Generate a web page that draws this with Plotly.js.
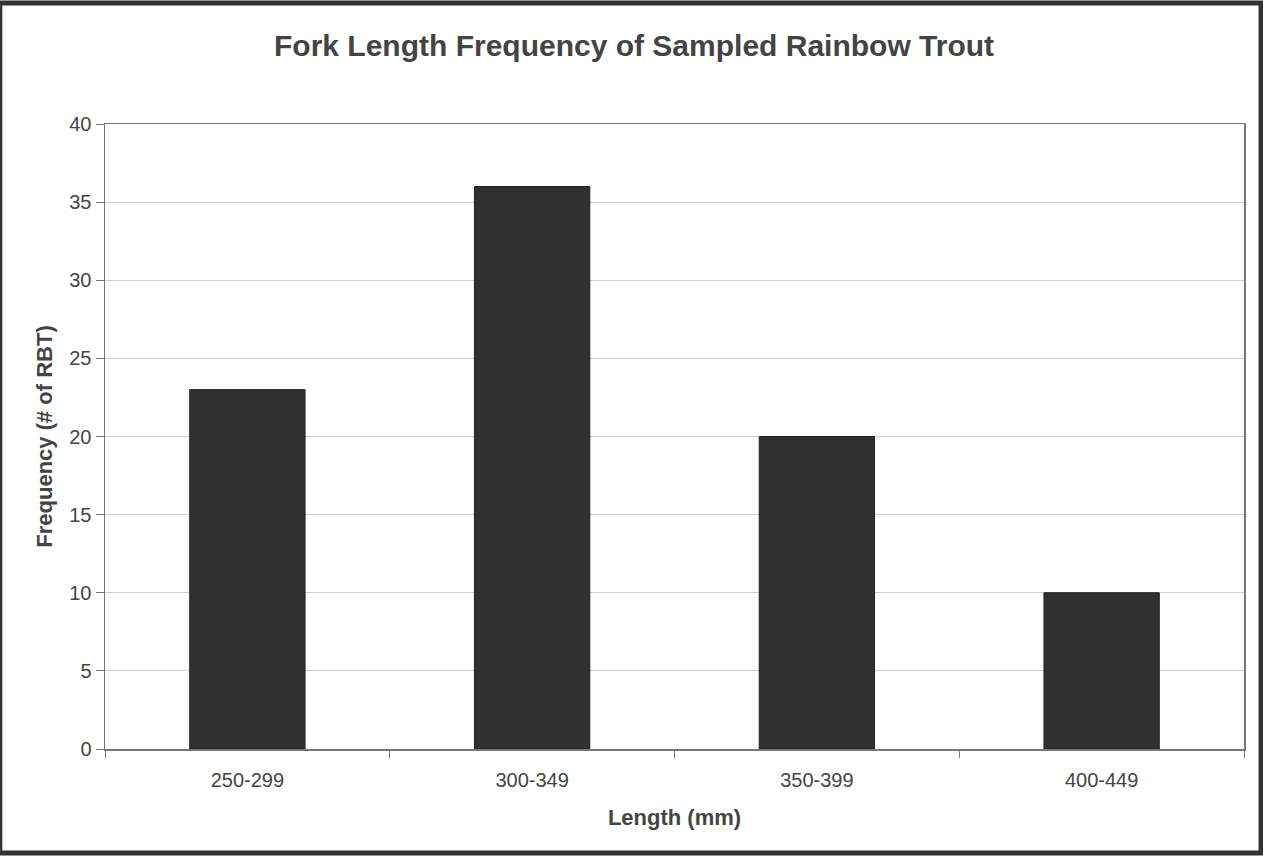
<!DOCTYPE html>
<html>
<head>
<meta charset="utf-8">
<script src="https://cdn.plot.ly/plotly-3.0.1.min.js"></script>
<style>
html,body{margin:0;padding:0;background:#fff;}
#chart{width:1263px;height:856px;}
</style>
</head>
<body>
<div id="chart"></div>
<script>
var categories = ["250-299", "300-349", "350-399", "400-449"];
var frequency = [23, 36, 20, 10];
var yTicks = [0, 5, 10, 15, 20, 25, 30, 35, 40];

var trace = {
  type: "bar",
  x: categories,
  y: frequency,
  marker: {color: "#303030", line: {color: "#222", width: 1}},
  hoverinfo: "x+y"
};

var layout = {
  width: 1263,
  height: 856,
  paper_bgcolor: "#ffffff",
  plot_bgcolor: "#ffffff",
  margin: {l: 105, r: 19, t: 124, b: 107},
  bargap: 0.595,
  showlegend: false,
  font: {family: "Liberation Sans, Arial, sans-serif", color: "#444"},
  title: {
    text: "<b>Fork Length Frequency of Sampled Rainbow Trout</b>",
    font: {size: 30, color: "#444", family: "Liberation Sans, Arial, sans-serif"},
    x: 0.502, xanchor: "center",
    y: 0.947, yanchor: "middle"
  },
  xaxis: {
    type: "category",
    tickson: "boundaries",
    ticks: "outside",
    ticklen: 7,
    tickcolor: "#777",
    ticklabelstandoff: 12,
    showgrid: false,
    showline: true,
    linecolor: "#777",
    linewidth: 1.5,
    mirror: true,
    tickfont: {size: 20, color: "#444"},
    title: {text: "<b>Length (mm)</b>", font: {size: 22, color: "#444"}, standoff: 20}
  },
  yaxis: {
    range: [0, 40],
    tickvals: yTicks,
    ticks: "outside",
    ticklen: 8,
    tickcolor: "#777",
    showgrid: true,
    gridcolor: "#cfcfcf",
    gridwidth: 1,
    showline: true,
    linecolor: "#777",
    linewidth: 1.5,
    mirror: true,
    zeroline: false,
    tickfont: {size: 20, color: "#444"},
    title: {text: "<b>Frequency (# of RBT)</b>", font: {size: 22, color: "#444"}, standoff: 10}
  },
  shapes: [{
    type: "rect", xref: "paper", yref: "paper",
    x0: -105/1137, x1: 1+ (19-2)/1137, y0: -(107-3)/625, y1: 1 + (124-3)/625,
    line: {color: "#333", width: 5}, fillcolor: "rgba(0,0,0,0)"
  }]
};

Plotly.newPlot("chart", [trace], layout, {displayModeBar: false, staticPlot: true});
</script>
</body>
</html>
